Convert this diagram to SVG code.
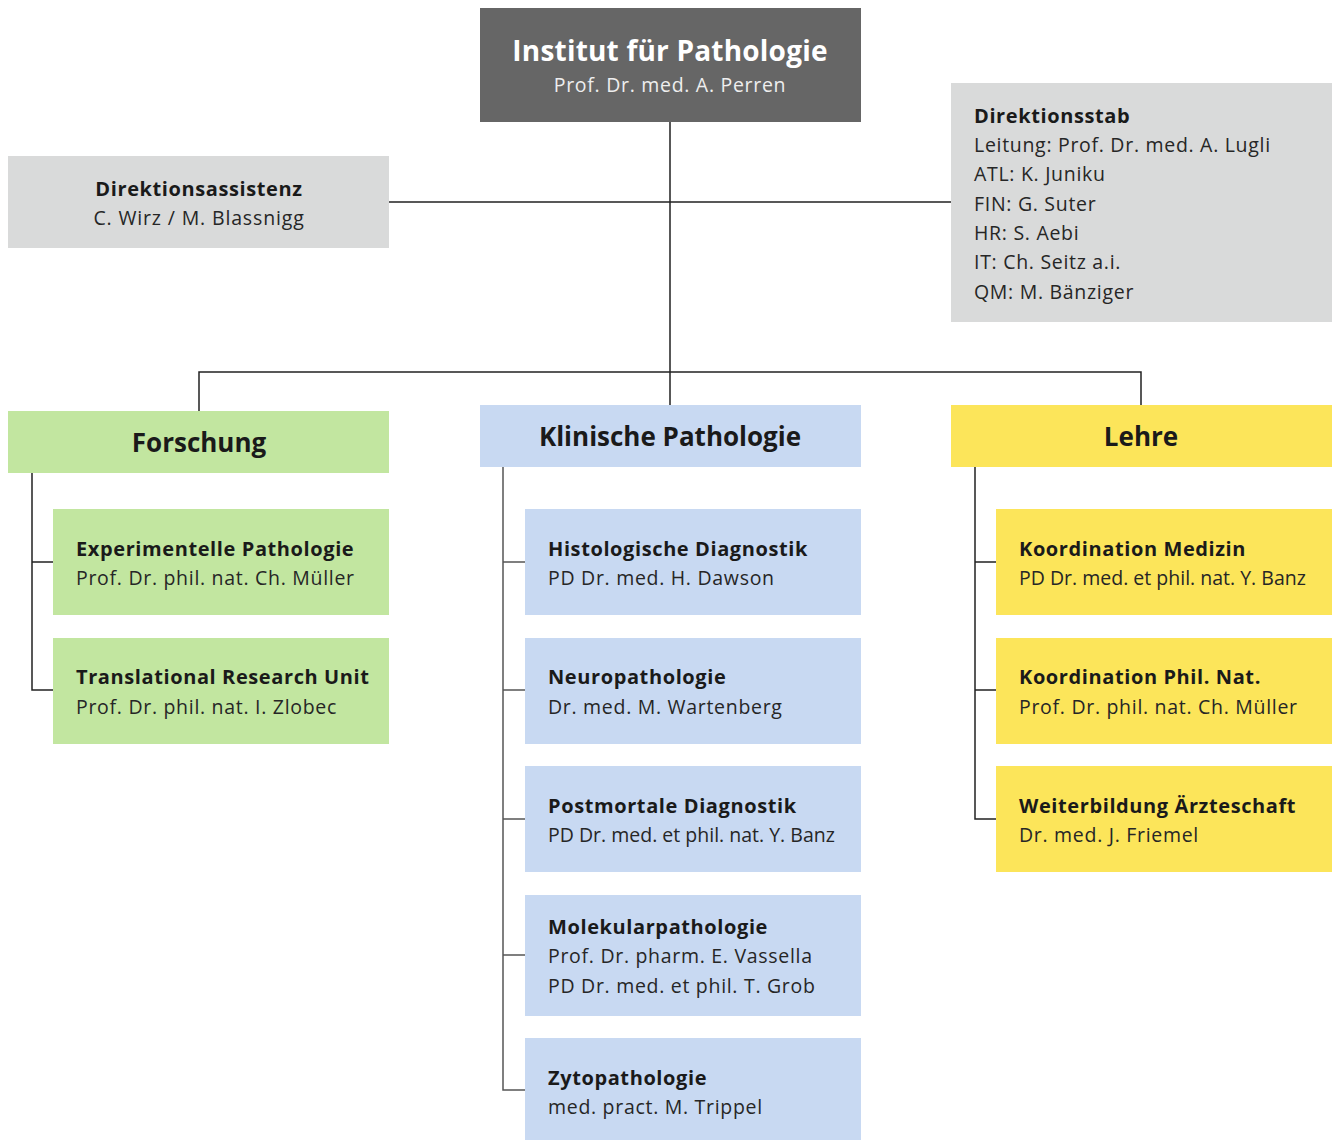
<svg xmlns="http://www.w3.org/2000/svg" width="1338" height="1140" viewBox="0 0 1338 1140">
<style>
text{font-family:"Open Sans","Noto Sans","DejaVu Sans",sans-serif;fill:#1a1a1a}
.t{font-weight:bold;font-size:20px;letter-spacing:0.6px}
.s{font-size:19.5px;letter-spacing:0.7px;fill:#262626}
.n{letter-spacing:0}
.h{font-weight:bold;font-size:26px}
.c{text-anchor:middle}
.ln{stroke:#222;stroke-width:1.5;fill:none}
.ln2{stroke:#555;stroke-width:1.5;fill:none}
.grey{fill:#d9dada}.green{fill:#c2e6a0}.blue{fill:#c8d9f2}.yellow{fill:#fce55a}
</style>
<rect width="1338" height="1140" fill="#fff"/>
<g id="connectors">
<path class="ln" d="M670 122V405M389 202H951M199 411V372H1141V405"/>
<path class="ln" d="M32 473V690H53M32 562H53"/>
<path class="ln2" d="M503 467V1090H525M503 562H525M503 690H525M503 819H525M503 955H525"/>
<path class="ln" d="M975 467V819H996M975 562H996M975 690H996"/>
</g>
<g id="institut">
<rect x="480" y="8" width="381" height="114" fill="#666"/>
<text class="c" x="670" y="61" style="font-weight:bold;font-size:28px;fill:#fff;letter-spacing:0.2px">Institut für Pathologie</text>
<text class="c s" x="670" y="92" style="fill:#eee">Prof. Dr. med. A. Perren</text>
</g>
<g id="direktionsassistenz">
<rect class="grey" x="8" y="156" width="381" height="92"/>
<text class="c t" x="199" y="196">Direktionsassistenz</text>
<text class="c s" x="199" y="225" style="letter-spacing:0.85px">C. Wirz / M. Blassnigg</text>
</g>
<g id="direktionsstab">
<rect class="grey" x="951" y="83" width="381" height="239"/>
<text class="t" x="974" y="123">Direktionsstab</text>
<text class="s" x="974" y="152">Leitung: Prof. Dr. med. A. Lugli</text>
<text class="s" x="974" y="181">ATL: K. Juniku</text>
<text class="s" x="974" y="211">FIN: G. Suter</text>
<text class="s" x="974" y="240">HR: S. Aebi</text>
<text class="s" x="974" y="269">IT: Ch. Seitz a.i.</text>
<text class="s" x="974" y="299">QM: M. Bänziger</text>
</g>
<g id="forschung">
<rect class="green" x="8" y="411" width="381" height="62"/>
<text class="c h" x="199" y="452">Forschung</text>
</g>
<g id="klinische">
<rect class="blue" x="480" y="405" width="381" height="62"/>
<text class="c h" x="670" y="446">Klinische Pathologie</text>
</g>
<g id="lehre">
<rect class="yellow" x="951" y="405" width="381" height="62"/>
<text class="c h" x="1141" y="446">Lehre</text>
</g>
<g id="exp">
<rect class="green" x="53" y="509" width="336" height="106"/>
<text class="t" x="76" y="556">Experimentelle Pathologie</text>
<text class="s" x="76" y="585">Prof. Dr. phil. nat. Ch. Müller</text>
</g>
<g id="tru">
<rect class="green" x="53" y="638" width="336" height="106"/>
<text class="t" x="76" y="684">Translational Research Unit</text>
<text class="s" x="76" y="714">Prof. Dr. phil. nat. I. Zlobec</text>
</g>
<g id="histo">
<rect class="blue" x="525" y="509" width="336" height="106"/>
<text class="t" x="548" y="556">Histologische Diagnostik</text>
<text class="s" x="548" y="585">PD Dr. med. H. Dawson</text>
</g>
<g id="neuro">
<rect class="blue" x="525" y="638" width="336" height="106"/>
<text class="t" x="548" y="684">Neuropathologie</text>
<text class="s" x="548" y="714">Dr. med. M. Wartenberg</text>
</g>
<g id="postmortal">
<rect class="blue" x="525" y="766" width="336" height="106"/>
<text class="t" x="548" y="813">Postmortale Diagnostik</text>
<text class="s n" x="548" y="842">PD Dr. med. et phil. nat. Y. Banz</text>
</g>
<g id="molekular">
<rect class="blue" x="525" y="895" width="336" height="121"/>
<text class="t" x="548" y="934">Molekularpathologie</text>
<text class="s" x="548" y="963">Prof. Dr. pharm. E. Vassella</text>
<text class="s" x="548" y="993">PD Dr. med. et phil. T. Grob</text>
</g>
<g id="zyto">
<rect class="blue" x="525" y="1038" width="336" height="102"/>
<text class="t" x="548" y="1085">Zytopathologie</text>
<text class="s" x="548" y="1114">med. pract. M. Trippel</text>
</g>
<g id="koordmed">
<rect class="yellow" x="996" y="509" width="336" height="106"/>
<text class="t" x="1019" y="556">Koordination Medizin</text>
<text class="s n" x="1019" y="585">PD Dr. med. et phil. nat. Y. Banz</text>
</g>
<g id="koordphil">
<rect class="yellow" x="996" y="638" width="336" height="106"/>
<text class="t" x="1019" y="684">Koordination Phil. Nat.</text>
<text class="s" x="1019" y="714">Prof. Dr. phil. nat. Ch. Müller</text>
</g>
<g id="weiterbildung">
<rect class="yellow" x="996" y="766" width="336" height="106"/>
<text class="t" x="1019" y="813">Weiterbildung Ärzteschaft</text>
<text class="s" x="1019" y="842">Dr. med. J. Friemel</text>
</g>
</svg>
